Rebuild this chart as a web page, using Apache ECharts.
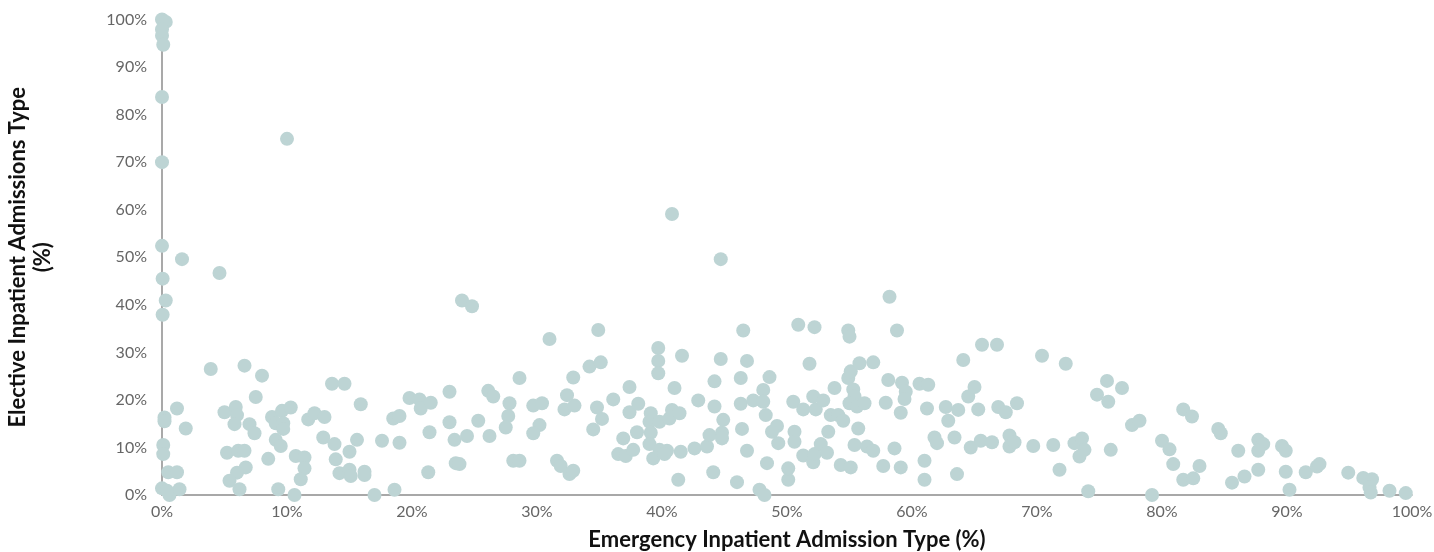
<!DOCTYPE html>
<html>
<head>
<meta charset="utf-8">
<title>Emergency vs Elective Inpatient Admissions</title>
<script src="https://cdn.jsdelivr.net/npm/echarts@6/dist/echarts.min.js"></script>
<style>
  html, body { margin: 0; padding: 0; background: #ffffff; }
  #chart { width: 1434px; height: 552px; }
</style>
</head>
<body>
<div id="chart"></div>
<script>
// Each pair: [emergency admission share %, elective admission share %]
const mostlyElective = [
  [0, 100], [0.3, 99.5], [0, 97.9], [0, 96.6], [0.1, 94.7], [0, 83.7], [10.0, 74.9], [0, 70.0],
  [0, 52.4], [1.6, 49.6], [40.8, 59.1], [44.7, 49.6]
];

const emergency0to17 = [
  [4.6, 46.7], [0.05, 45.5], [0.3, 40.9], [0.05, 37.9], [3.9, 26.5], [6.6, 27.2], [8.0, 25.1], [13.6, 23.4],
  [14.6, 23.4], [7.5, 20.6], [15.9, 19.1], [1.2, 18.2], [0.2, 16.3], [0.2, 15.5], [1.9, 14.0], [5.0, 17.4],
  [5.9, 18.5], [6.0, 16.8], [5.8, 14.9], [7.0, 14.9], [7.4, 13.0], [8.8, 16.4], [9.6, 17.7], [10.3, 18.4],
  [9.1, 15.1], [9.7, 15.1], [9.7, 13.9], [9.1, 11.6], [9.5, 10.3], [11.7, 15.9], [12.2, 17.2], [13.0, 16.4],
  [12.9, 12.1], [13.8, 10.7], [15.6, 11.6], [15.0, 9.1], [13.9, 7.5], [14.2, 4.6], [15.0, 5.3], [15.1, 4.0],
  [16.2, 4.9], [16.2, 4.2], [0.1, 10.5], [0.1, 8.6], [0.5, 4.8], [1.2, 4.8], [0, 1.4], [0.6, 0],
  [1.4, 1.2], [0.4, 0.9], [5.2, 8.9], [6.1, 9.3], [6.6, 9.3], [6.7, 5.8], [6.0, 4.7], [5.4, 3.0],
  [6.2, 1.2], [8.5, 7.6], [9.3, 1.2], [10.6, 0], [10.7, 8.2], [11.4, 7.9], [11.4, 5.6], [11.1, 3.3]
];

const emergency17to34 = [
  [17.0, 0], [18.6, 1.1], [17.6, 11.4], [19.0, 11.0], [18.5, 16.1], [19.0, 16.6], [19.8, 20.4], [20.6, 20.1],
  [20.7, 18.2], [21.5, 19.4], [21.4, 13.2], [21.3, 4.8], [23.0, 21.7], [23.0, 15.3], [23.4, 11.6], [23.5, 6.7],
  [23.8, 6.5], [24.0, 40.9], [24.8, 39.7], [24.4, 12.4], [25.3, 15.6], [26.1, 21.9], [26.5, 20.7], [26.2, 12.4],
  [27.8, 19.3], [27.7, 16.6], [27.5, 14.2], [28.1, 7.2], [28.6, 7.2], [28.6, 24.6], [29.7, 18.8], [30.4, 19.3],
  [30.2, 14.7], [29.7, 13.0], [31.0, 32.8], [31.6, 7.2], [31.9, 6.1], [32.6, 4.4], [32.9, 5.1], [32.4, 21.0],
  [32.9, 24.7], [32.2, 18.0], [33.0, 18.8]
];

const emergency34to50 = [
  [34.9, 34.7], [34.2, 27.0], [35.1, 27.9], [34.8, 18.4], [35.2, 16.0], [34.5, 13.8], [36.1, 20.1], [37.4, 22.7],
  [37.4, 17.4], [38.1, 19.2], [36.9, 11.9], [36.5, 8.6], [37.1, 8.2], [37.7, 9.5], [38.0, 13.2], [39.1, 17.2],
  [39.0, 15.4], [39.1, 13.1], [39.0, 10.7], [39.3, 7.7], [39.8, 15.4], [40.6, 16.1], [40.8, 17.9], [41.4, 17.2],
  [41.0, 22.5], [39.7, 30.9], [39.7, 28.2], [39.7, 25.6], [41.6, 29.3], [39.8, 9.5], [40.4, 9.3], [40.2, 8.6],
  [41.5, 9.1], [41.3, 3.2], [42.9, 19.9], [42.6, 9.8], [43.6, 10.2], [43.8, 12.6], [44.8, 13.1], [44.8, 11.9],
  [44.9, 15.8], [44.2, 18.6], [44.2, 23.9], [44.7, 28.6], [44.1, 4.8], [46.5, 34.6], [46.8, 28.2], [46.3, 24.6],
  [46.3, 19.2], [46.4, 13.9], [46.8, 9.3], [46.0, 2.7], [48.6, 24.8], [47.3, 19.9], [48.1, 22.1], [48.1, 19.6],
  [48.3, 16.8], [49.2, 14.5], [48.8, 13.3], [49.3, 10.9], [48.4, 6.7], [47.8, 1.1], [48.2, 0], [50.1, 3.2],
  [50.1, 5.6]
];

const emergency50to67 = [
  [50.9, 35.8], [52.2, 35.3], [54.9, 34.6], [55.0, 33.3], [58.2, 41.7], [58.8, 34.6], [51.8, 27.6], [50.5, 19.6],
  [51.3, 18.0], [50.6, 13.3], [50.6, 11.2], [51.3, 8.3], [52.1, 6.9], [52.2, 8.6], [52.7, 10.7], [53.2, 8.9],
  [54.3, 6.3], [55.1, 5.8], [52.1, 20.7], [52.3, 18.0], [52.9, 19.9], [53.8, 22.5], [53.3, 13.3], [53.5, 16.8],
  [54.1, 16.8], [54.5, 15.6], [54.9, 24.6], [55.1, 26.0], [55.8, 27.7], [56.9, 27.9], [55.3, 22.2], [55.4, 20.7],
  [55.0, 19.3], [55.6, 18.6], [56.2, 19.3], [55.7, 14.0], [55.4, 10.5], [56.4, 10.2], [56.9, 9.3], [57.7, 6.1],
  [58.6, 9.8], [59.1, 5.8], [57.9, 19.4], [58.1, 24.2], [59.2, 23.6], [59.5, 21.7], [59.4, 20.2], [59.1, 17.3],
  [60.6, 23.4], [61.3, 23.2], [61.2, 18.2], [61.0, 7.2], [61.0, 3.2], [61.8, 12.1], [62.0, 10.9], [62.7, 18.5],
  [62.9, 15.6], [63.4, 12.1], [63.6, 4.4], [63.7, 17.9], [64.1, 28.4], [64.5, 20.7], [65.0, 22.7], [65.3, 18.0],
  [64.7, 10.0], [65.5, 11.4], [66.4, 11.1], [65.6, 31.6], [66.8, 31.6], [66.9, 18.5]
];

const emergency67to84 = [
  [67.5, 17.4], [68.4, 19.3], [67.8, 12.5], [67.8, 10.2], [68.2, 11.1], [69.7, 10.3], [70.4, 29.3], [71.3, 10.5],
  [72.3, 27.6], [71.8, 5.3], [73.0, 10.9], [73.6, 11.9], [73.8, 9.5], [73.4, 8.1], [74.1, 0.8], [74.8, 21.1],
  [75.6, 24.0], [75.7, 19.6], [75.9, 9.5], [76.8, 22.5], [77.6, 14.7], [78.2, 15.6], [79.2, 0], [80.0, 11.4],
  [80.6, 9.6], [80.9, 6.5], [81.7, 18.0], [82.4, 16.5], [81.7, 3.2], [82.5, 3.5], [83.0, 6.1]
];

const emergency84to100 = [
  [84.5, 13.9], [84.7, 13.0], [86.1, 9.3], [85.6, 2.6], [86.6, 3.9], [87.7, 11.6], [88.1, 10.7], [87.7, 9.3],
  [87.7, 5.3], [89.6, 10.3], [89.9, 9.3], [89.9, 4.9], [90.2, 1.1], [91.5, 4.8], [92.4, 6.0], [92.6, 6.5],
  [94.9, 4.7], [96.1, 3.6], [96.8, 3.3], [96.6, 1.6], [96.7, 0.5], [98.2, 0.9], [99.5, 0.4]
];

const axisTitleX = 'Emergency Inpatient Admission Type (%)';
const axisTitleY = 'Elective Inpatient Admissions Type\n(%)';

const allPoints = [].concat(
  mostlyElective, emergency0to17, emergency17to34, emergency34to50,
  emergency50to67, emergency67to84, emergency84to100
);

const chart = echarts.init(document.getElementById('chart'), null, { renderer: 'canvas' });

const tickLabel = {
  color: '#666666',
  fontFamily: 'Lato',
  fontSize: 16,
  formatter: '{value}%'
};
const axisLine = { show: true, lineStyle: { color: '#8c8c8c', width: 1.5 } };
const nameStyle = {
  color: '#111111',
  fontFamily: 'Lato',
  fontWeight: 'bold',
  fontSize: 22,
  lineHeight: 25
};

chart.setOption({
  animation: false,
  backgroundColor: '#ffffff',
  grid: {
    left: 162, right: 22, top: 19.5, bottom: 57,
    containLabel: false,
    outerBoundsMode: 'none'
  },
  xAxis: {
    type: 'value',
    min: 0, max: 100, interval: 10,
    name: axisTitleX,
    nameLocation: 'middle',
    nameGap: 32,
    nameTextStyle: nameStyle,
    axisLine: axisLine,
    axisTick: { show: false },
    splitLine: { show: false },
    axisLabel: Object.assign({ margin: 9 }, tickLabel)
  },
  yAxis: {
    type: 'value',
    min: 0, max: 100, interval: 10,
    name: axisTitleY,
    nameLocation: 'middle',
    nameGap: 107,
    nameTextStyle: nameStyle,
    axisLine: axisLine,
    axisTick: { show: false },
    splitLine: { show: false },
    axisLabel: Object.assign({ margin: 15 }, tickLabel)
  },
  series: [{
    type: 'scatter',
    data: allPoints,
    symbol: 'circle',
    symbolSize: 14,
    clip: false,
    itemStyle: { color: '#bdd4d4', opacity: 1 }
  }]
});
</script>
</body>
</html>
